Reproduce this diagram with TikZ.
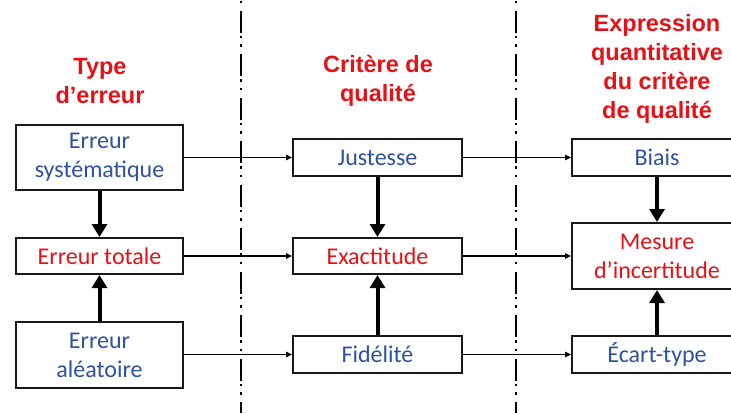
\documentclass[tikz,border=0pt]{standalone}
\usepackage{fontspec}
\setmainfont{Carlito}
\newfontfamily\hdrfont{Liberation Sans}[UprightFont={* Bold}]
\usetikzlibrary{arrows.meta}
\definecolor{txtblue}{RGB}{47,82,160}
\definecolor{txtred}{RGB}{228,18,22}
\begin{document}
\begin{tikzpicture}[x=1pt,y=-1pt,
  box/.style={draw=black!90, line width=2pt, inner sep=0pt, align=center,
    font=\fontsize{24}{29}\selectfont},
  bluebox/.style={box, text=txtblue},
  redbox/.style={box, text=txtred},
  header/.style={align=center, text=txtred, inner sep=0pt,
    font=\hdrfont\fontsize{23.5}{29}\selectfont},
  thin/.style={line width=1.5pt, -{Triangle[length=6pt,width=5.5pt]}},
  thick/.style={line width=4pt, -{Triangle[length=13pt,width=15pt]}},
  sep/.style={line width=2pt, dash pattern=on 22pt off 3pt on 2.5pt off 6pt on 2.5pt off 7.5pt, dash phase=33pt}]
\clip (0,0) rectangle (731,413);
\fill[white] (0,0) rectangle (731,413);

% column separators
\coordinate (s1t) at (241,0);
\coordinate (s1b) at (241,413);
\coordinate (s2t) at (516,0);
\coordinate (s2b) at (516,413);
\draw[sep] (s1t) -- (s1b);
\draw[sep] (s2t) -- (s2b);

% headers
\node[header] (h1) at (100,81) {Type\\d’erreur};
\node[header] (h2) at (378,81) {Critère de\\qualité};
\node[header] (h3) at (657,68.5) {Expression\\quantitative\\du critère\\de qualité};

% error types
\node[bluebox, minimum width=167pt, minimum height=65pt] (e1) at (99.5,157.5) {Erreur\\systématique};
\node[redbox, minimum width=167pt, minimum height=36pt] (e2) at (99.5,256) {Erreur totale};
\node[bluebox, minimum width=167pt, minimum height=66pt] (e3) at (99.5,355) {Erreur\\aléatoire};

% quality criteria
\node[bluebox, minimum width=169pt, minimum height=37pt] (c1) at (377.5,157.5) {Justesse};
\node[redbox, minimum width=169pt, minimum height=36pt] (c2) at (377.5,256) {Exactitude};
\node[bluebox, minimum width=169pt, minimum height=37pt] (c3) at (377.5,354.5) {Fidélité};

% quantitative expression
\node[bluebox, minimum width=170pt, minimum height=37pt] (q1) at (657,157.5) {Biais};
\node[redbox, minimum width=170pt, minimum height=66pt] (q2) at (657,256) {Mesure\\d’incertitude};
\node[bluebox, minimum width=170pt, minimum height=37pt] (q3) at (657,354.5) {Écart-type};

% horizontal links
\draw[thin] (e1.east |- c1.west) -- (c1.west);
\draw[thin] (e2.east) -- (c2.west);
\draw[thin] (e3.east |- c3.west) -- (c3.west);
\draw[thin] (c1.east) -- (q1.west);
\draw[thin] (c2.east) -- (q2.west);
\draw[thin] (c3.east) -- (q3.west);

% vertical links
\draw[thick] (e1.south) -- (e2.north);
\draw[thick] (e3.north) -- (e2.south);
\draw[thick] (c1.south) -- (c2.north);
\draw[thick] (c3.north) -- (c2.south);
\draw[thick] (q1.south) -- (q2.north);
\draw[thick] (q3.north) -- (q2.south);
\end{tikzpicture}
\end{document}
